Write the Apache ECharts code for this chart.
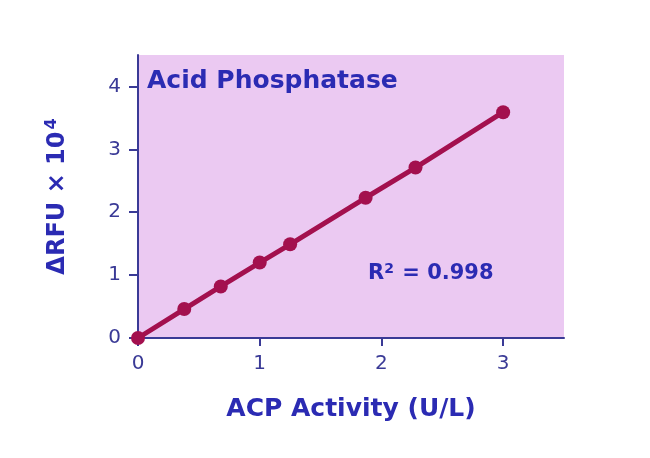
<!DOCTYPE html>
<html>
<head>
<meta charset="utf-8">
<script src="https://cdn.jsdelivr.net/npm/echarts@6/dist/echarts.min.js"></script>
<style>
  html, body { margin: 0; padding: 0; background: #ffffff; }
  #chart { width: 650px; height: 458px; }
</style>
</head>
<body>
<div id="chart"></div>
<script>
// ACP activity standard curve (U/L) vs fluorescence change (×10^4 RFU)
const activity = [0, 0.38, 0.68, 1.0, 1.25, 1.87, 2.28, 3.0];
const deltaRFU = [0, 0.46, 0.82, 1.2, 1.49, 2.23, 2.71, 3.59];
const xTicks = [0, 1, 2, 3];
const yTicks = [0, 1, 2, 3, 4];
const chartTitle = 'Acid Phosphatase';
const rSquared = '0.998';

const textBlue = '#2b2bb3';
const axisBlue = '#3a3a96';
const lineRed = '#a3104e';
const font = '"DejaVu Sans", Verdana, sans-serif';

const points = activity.map((x, i) => [x, deltaRFU[i]]);

const chart = echarts.init(document.getElementById('chart'), null, { renderer: 'canvas' });
chart.setOption({
  animation: false,
  backgroundColor: '#ffffff',
  grid: {
    left: 138, right: 86, top: 55, bottom: 120,
    show: true, backgroundColor: '#ebc9f2', borderWidth: 0
  },
  xAxis: {
    type: 'value', min: 0, max: 3.5,
    name: 'ACP Activity (U/L)',
    nameLocation: 'middle', nameGap: 59,
    nameTextStyle: { color: textBlue, fontFamily: font, fontWeight: 'bold', fontSize: 25 },
    splitLine: { show: false },
    axisLine: { show: true, lineStyle: { color: axisBlue, width: 2 } },
    axisTick: { show: true, length: 8, customValues: xTicks, lineStyle: { color: axisBlue, width: 2 } },
    axisLabel: { customValues: xTicks, margin: 16, color: axisBlue, fontFamily: font, fontSize: 20 }
  },
  yAxis: {
    type: 'value', min: 0, max: 4.5,
    name: '{m|ΔRFU × 10}{s|4}',
    nameLocation: 'middle', nameGap: 66, nameRotate: 90,
    nameTextStyle: {
      color: textBlue, fontFamily: font, fontWeight: 'bold', fontSize: 24,
      rich: {
        m: { color: textBlue, fontFamily: font, fontWeight: 'bold', fontSize: 24 },
        s: { color: textBlue, fontFamily: font, fontWeight: 'bold', fontSize: 16, verticalAlign: 'top', padding: [0, 0, 12, 2] }
      }
    },
    splitLine: { show: false },
    axisLine: { show: true, lineStyle: { color: axisBlue, width: 2 } },
    axisTick: { show: true, length: 9, customValues: yTicks, lineStyle: { color: axisBlue, width: 2 } },
    axisLabel: { customValues: yTicks, margin: 17, color: axisBlue, fontFamily: font, fontSize: 20 }
  },
  series: [{
    type: 'line',
    data: points,
    symbol: 'circle',
    symbolSize: 14,
    lineStyle: { color: lineRed, width: 5 },
    itemStyle: { color: lineRed },
    z: 3
  }],
  graphic: [
    {
      type: 'text', left: 147, top: 69,
      style: { text: chartTitle, fill: textBlue, font: 'bold 25px ' + font }
    },
    {
      type: 'text', left: 368, top: 262,
      style: {
        text: '{m|R}{s|2}{m| = ' + rSquared + '}',
        rich: {
          m: { fill: textBlue, fontFamily: font, fontWeight: 'bold', fontSize: 21 },
          s: { fill: textBlue, fontFamily: font, fontWeight: 'bold', fontSize: 14, verticalAlign: 'top', padding: [0, 1, 9, 0] }
        }
      }
    }
  ]
});
</script>
</body>
</html>
